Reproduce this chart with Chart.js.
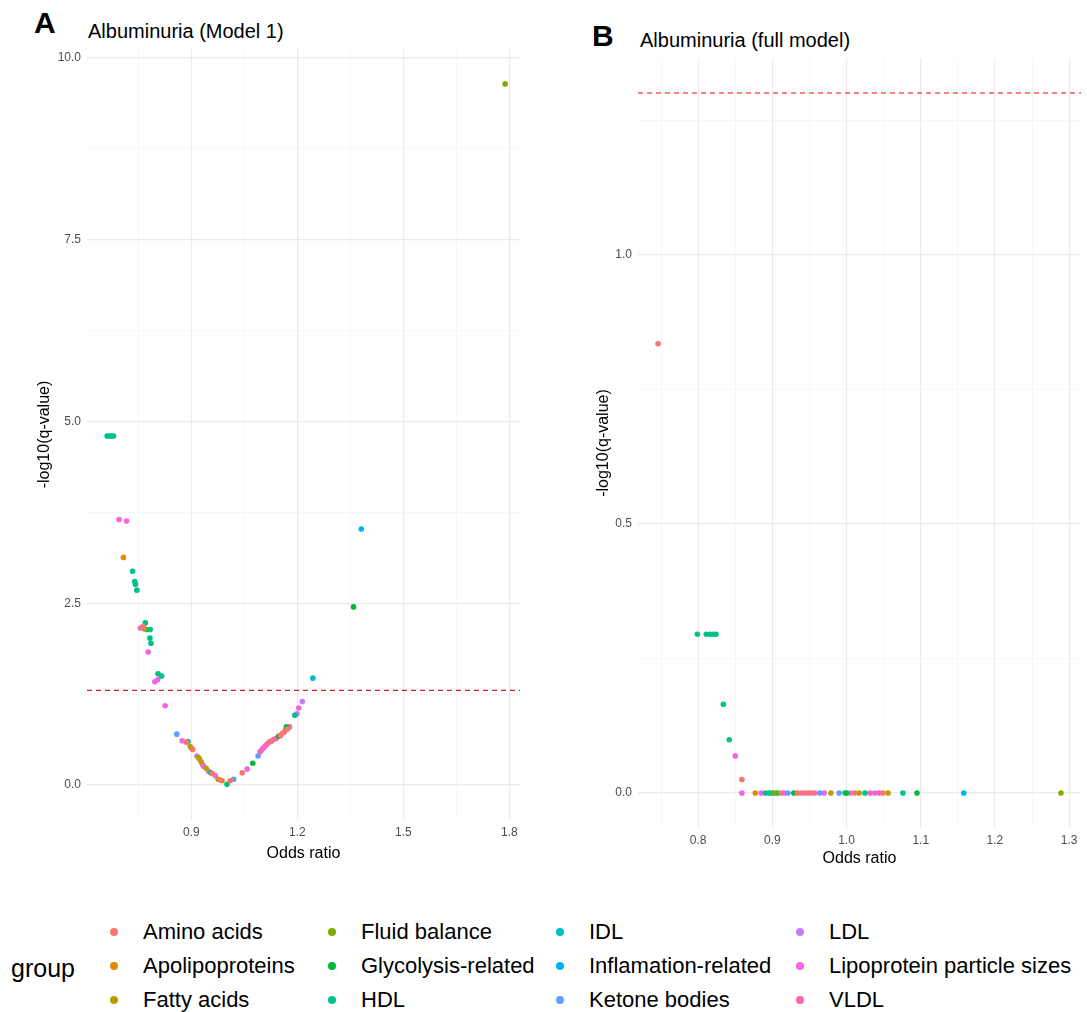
<!DOCTYPE html>
<html>
<head>
<meta charset="utf-8">
<script src="https://cdn.jsdelivr.net/npm/chart.js@4/dist/chart.umd.min.js"></script>
<style>
  body { margin: 0; background: #fff; font-family: "Liberation Sans", Arial, sans-serif; }
  #page { position: relative; width: 1087px; height: 1012px; overflow: hidden; }
  canvas { position: absolute; }
  .tag { position: absolute; font-weight: bold; font-size: 30px; line-height: 30px; color: #000; }
  .title { position: absolute; font-size: 20px; line-height: 20px; color: #000; }
  #legendTitle { position: absolute; left: 11px; top: 953px; font-size: 25px; line-height: 30px; }
  .item { position: absolute; font-size: 22px; line-height: 24px; white-space: nowrap; }
  .dot { position: absolute; width: 8px; height: 8px; border-radius: 50%; }
</style>
</head>
<body>
<div id="page">
  <div class="tag" style="left:34px; top:8px;">A</div>
  <div class="title" style="left:88px; top:21px;">Albuminuria (Model 1)</div>
  <div class="tag" style="left:592px; top:21px;">B</div>
  <div class="title" style="left:640px; top:30px;">Albuminuria (full model)</div>
  <canvas id="chartA" width="530" height="880" style="left:0; top:0;"></canvas>
  <canvas id="chartB" width="539" height="890" style="left:548px; top:0;"></canvas>
  <div id="legendTitle">group</div>
  <div id="legend"></div>
</div>
<script>
const groups = ['Amino acids', 'Apolipoproteins', 'Fatty acids', 'Fluid balance', 'Glycolysis-related', 'HDL',
    'IDL', 'Inflamation-related', 'Ketone bodies', 'LDL', 'Lipoprotein particle sizes', 'VLDL'];
const groupColors = ['#F8766D', '#DE8C00', '#B79F00', '#7CAE00', '#00BA38', '#00C08B',
    '#00BFC4', '#00B4F0', '#619CFF', '#C77CFF', '#F564E3', '#FF64B0'];

const qThreshold = 1.301; // -log10(0.05)

// Panel A: Albuminuria (Model 1) -- group index, odds ratio, -log10(q)
const aGroup = [5, 5, 5, 5, 10, 10, 1, 5, 5, 5, 5, 5, 10, 0, 2, 5, 5, 5, 5, 10, 5, 5, 10, 10, 10,
    8, 10, 0, 6, 2, 2, 0, 9, 2, 2, 2, 10, 11, 2, 11, 5, 0, 10, 2, 0, 2, 5, 0, 8, 0, 10, 4, 8,
    11, 11, 10, 11, 11, 11, 0, 11, 11, 11, 4, 0, 11, 0, 11, 4, 0, 11, 5, 9, 10, 9, 6, 4, 7, 3];
const aOddsRatio = [0.662, 0.668, 0.674, 0.680, 0.696, 0.717, 0.708, 0.734, 0.740, 0.742, 0.746, 0.770, 0.756, 0.763, 0.767, 0.774, 0.784, 0.783, 0.786, 0.778, 0.806, 0.816, 0.797, 0.805, 0.826,
    0.859, 0.874, 0.886, 0.891, 0.897, 0.900, 0.904, 0.916, 0.920, 0.923, 0.928, 0.935, 0.932, 0.942, 0.949, 0.955, 0.959, 0.968, 0.976, 0.982, 0.987, 1.001, 1.010, 1.020, 1.044, 1.058, 1.074, 1.089,
    1.095, 1.100, 1.104, 1.108, 1.114, 1.120, 1.124, 1.128, 1.134, 1.140, 1.147, 1.152, 1.157, 1.163, 1.167, 1.169, 1.172, 1.178, 1.193, 1.199, 1.204, 1.214, 1.244, 1.359, 1.381, 1.788];
const aLogQ = [4.80, 4.80, 4.80, 4.80, 3.65, 3.63, 3.13, 2.94, 2.80, 2.76, 2.68, 2.23, 2.16, 2.18, 2.15, 2.14, 2.14, 2.02, 1.95, 1.83, 1.53, 1.50, 1.42, 1.45, 1.09,
    0.70, 0.61, 0.59, 0.60, 0.53, 0.51, 0.49, 0.40, 0.38, 0.36, 0.32, 0.26, 0.28, 0.23, 0.19, 0.17, 0.16, 0.13, 0.08, 0.07, 0.06, 0.01, 0.06, 0.08, 0.17, 0.22, 0.30, 0.40,
    0.46, 0.49, 0.51, 0.53, 0.56, 0.59, 0.60, 0.61, 0.63, 0.64, 0.67, 0.68, 0.71, 0.73, 0.76, 0.80, 0.77, 0.80, 0.96, 0.98, 1.06, 1.15, 1.47, 2.45, 3.52, 9.64];

// Panel B: Albuminuria (full model)
const bGroup = [0, 5, 5, 5, 5, 5, 5, 5, 10, 0, 10,
    1, 10, 5, 5, 5, 3, 5, 0, 10, 8, 4, 0, 11, 0, 10, 0, 11, 8, 10, 2, 8, 5, 4, 10, 0, 2, 5, 11, 10, 11, 0, 2,
    5, 4, 7, 3];
const bOddsRatio = [0.746, 0.799, 0.811, 0.816, 0.820, 0.824, 0.834, 0.842, 0.850, 0.859, 0.859,
    0.877, 0.885, 0.891, 0.896, 0.900, 0.903, 0.907, 0.912, 0.916, 0.921, 0.929, 0.934, 0.939, 0.944, 0.948, 0.952, 0.957, 0.964, 0.970, 0.979, 0.990, 0.998, 1.000, 1.005, 1.011, 1.017, 1.025, 1.032, 1.038, 1.044, 1.049, 1.056,
    1.076, 1.095, 1.158, 1.289];
const bLogQ = [0.835, 0.295, 0.295, 0.295, 0.295, 0.295, 0.165, 0.099, 0.069, 0.025, 0,
    0, 0, 0, 0, 0, 0, 0, 0, 0, 0, 0, 0, 0, 0, 0, 0, 0, 0, 0, 0, 0, 0, 0, 0, 0, 0, 0, 0, 0, 0, 0, 0,
    0, 0, 0, 0];

// axis ranges and ticks
const aXRange = [0.605, 1.83];
const aYRange = [-0.48, 10.12];
const aXMajor = [0.9, 1.2, 1.5, 1.8];
const aXMinor = [0.75, 1.05, 1.35, 1.65];
const aYMajor = [0, 2.5, 5, 7.5, 10];
const aYMinor = [1.25, 3.75, 6.25, 8.75];

const bXRange = [0.719, 1.316];
const bYRange = [-0.065, 1.366];
const bXMajor = [0.8, 0.9, 1.0, 1.1, 1.2, 1.3];
const bXMinor = [0.75, 0.85, 0.95, 1.05, 1.15, 1.25];
const bYMajor = [0, 0.5, 1.0];
const bYMinor = [0.25, 0.75, 1.25];

const tickColor = '#4D4D4D';
const fontFamily = '"Liberation Sans", Arial, sans-serif';

function buildDatasets(groupIdx, xs, ys, xRange, lineColor, lineWidth) {
    const datasets = [];
    groups.forEach((name, g) => {
        const pts = [];
        groupIdx.forEach((gi, i) => {
            if (gi === g) pts.push({ x: xs[i], y: ys[i] });
        });
        if (pts.length) {
            datasets.push({
                label: name,
                data: pts,
                backgroundColor: groupColors[g],
                borderWidth: 0,
                pointRadius: 2.8,
                pointHoverRadius: 2.8
            });
        }
    });
    // significance threshold
    datasets.push({
        type: 'line',
        label: 'threshold',
        data: [{ x: xRange[0], y: qThreshold }, { x: xRange[1], y: qThreshold }],
        borderColor: lineColor,
        borderWidth: lineWidth,
        borderDash: [5, 4],
        pointRadius: 0,
        fill: false
    });
    return datasets;
}

function makeAxis(range, major, minor, opts) {
    const isMajor = v => major.some(m => Math.abs(m - v) < 1e-9);
    return {
        type: 'linear',
        position: opts.position,
        min: range[0],
        max: range[1],
        afterBuildTicks: scale => {
            scale.ticks = major.concat(minor).sort((a, b) => a - b).map(v => ({ value: v }));
        },
        afterFit: scale => {
            if (opts.position === 'left') scale.width = opts.size;
            else scale.height = opts.size;
        },
        ticks: {
            autoSkip: false,
            maxRotation: 0,
            padding: opts.tickPad,
            color: tickColor,
            font: { family: fontFamily, size: 12 },
            callback: v => isMajor(v) ? v.toFixed(1) : ''
        },
        grid: {
            drawTicks: false,
            color: ctx => isMajor(ctx.tick.value) ? '#EBEBEB' : '#F3F3F3',
            lineWidth: ctx => isMajor(ctx.tick.value) ? 1.2 : 0.7
        },
        border: { display: false },
        title: {
            display: true,
            text: opts.title,
            color: '#000',
            font: { family: fontFamily, size: 16 },
            padding: opts.titlePad
        }
    };
}

function drawPanel(canvasId, datasets, xAxis, yAxis, padding) {
    const ctx = document.getElementById(canvasId).getContext('2d');
    new Chart(ctx, {
        type: 'scatter',
        data: { datasets: datasets },
        options: {
            responsive: false,
            animation: false,
            layout: { padding: padding },
            plugins: { legend: { display: false }, tooltip: { enabled: false } },
            scales: { x: xAxis, y: yAxis }
        }
    });
}

drawPanel('chartA',
    buildDatasets(aGroup, aOddsRatio, aLogQ, aXRange, '#CC2222', 1.3),
    makeAxis(aXRange, aXMajor, aXMinor, { position: 'bottom', size: 60, tickPad: 5, title: 'Odds ratio', titlePad: { top: 0, bottom: 17 } }),
    makeAxis(aYRange, aYMajor, aYMinor, { position: 'left', size: 87, tickPad: 6, title: '-log10(q-value)', titlePad: { top: 35, bottom: 0 } }),
    { left: 0, top: 49, right: 10, bottom: 0 });

drawPanel('chartB',
    buildDatasets(bGroup, bOddsRatio, bLogQ, bXRange, '#FF0000', 1),
    makeAxis(bXRange, bXMajor, bXMinor, { position: 'bottom', size: 62, tickPad: 5, title: 'Odds ratio', titlePad: { top: 0, bottom: 22 } }),
    makeAxis(bYRange, bYMajor, bYMinor, { position: 'left', size: 90, tickPad: 6, title: '-log10(q-value)', titlePad: { top: 46, bottom: 0 } }),
    { left: 0, top: 58, right: 6, bottom: 0 });

// legend: 3 rows x 4 columns, filled column by column
const legendDotX = [114, 332, 560, 800];
const legendRowY = [932, 966, 1000];
const legend = document.getElementById('legend');
groups.forEach((name, g) => {
    const col = Math.floor(g / 3);
    const row = g % 3;
    const dot = document.createElement('div');
    dot.className = 'dot';
    dot.style.background = groupColors[g];
    dot.style.left = (legendDotX[col] - 4) + 'px';
    dot.style.top = (legendRowY[row] - 4) + 'px';
    legend.appendChild(dot);
    const item = document.createElement('div');
    item.className = 'item';
    item.textContent = name;
    item.style.left = (legendDotX[col] + 29) + 'px';
    item.style.top = (legendRowY[row] - 12) + 'px';
    legend.appendChild(item);
});
</script>
</body>
</html>
